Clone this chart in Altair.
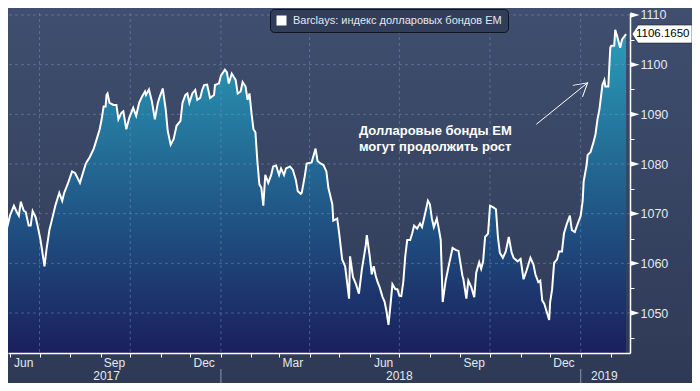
import altair as alt
import pandas as pd

FONT = "Liberation Sans"
SERIES = "Barclays: индекс долларовых бондов EM"
START = "2017-05-22"      # first observation
VIEW_START = "2017-05-30"  # left edge of the visible plot
END = "2019-02-20"

# days after START, and index level
days = [0, 4, 7, 10, 14, 17, 19, 21, 24, 26,
        29, 31, 33, 36, 38, 41, 45, 47, 50, 52,
        56, 60, 63, 65, 69, 73, 76, 81, 84, 87,
        91, 95, 98, 101, 103, 105, 107, 108, 109, 111,
        115, 118, 120, 123, 125, 128, 131, 135, 138, 141,
        144, 147, 148, 151, 154, 157, 160, 162, 165, 168,
        170, 173, 176, 179, 183, 185, 188, 190, 192, 195,
        198, 200, 203, 205, 207, 210, 213, 217, 218, 222,
        224, 228, 230, 232, 235, 239, 241, 244, 246, 249,
        251, 253, 255, 257, 259, 261, 263, 265, 267, 269,
        272, 275, 277, 280, 283, 285, 288, 290, 294, 297,
        300, 302, 305, 306, 309, 311, 316, 320, 322, 325,
        328, 331, 333, 337, 338, 342, 344, 347, 350, 354,
        355, 358, 361, 364, 367, 371, 372, 375, 377, 379,
        381, 383, 385, 388, 390, 392, 394, 396, 398, 401,
        403, 405, 407, 409, 411, 413, 416, 418, 420, 423,
        426, 428, 430, 434, 436, 438, 440, 443, 445, 447,
        449, 452, 455, 459, 462, 465, 469, 470, 473, 475,
        478, 481, 483, 486, 488, 490, 492, 495, 497, 500,
        503, 505, 507, 510, 513, 516, 519, 521, 525, 528,
        531, 534, 538, 541, 543, 546, 548, 550, 552, 555,
        557, 558, 560, 562, 565, 567, 570, 572, 575, 578,
        580, 583, 586, 589, 591, 592, 595, 596, 599, 602,
        604, 606, 608, 611, 613, 614, 617, 619, 620, 623,
        624, 626, 629, 631, 635]

values = [1062.4, 1066.1, 1067.1, 1069.6, 1071.6, 1070.3, 1069.6, 1072.4, 1070.6, 1070.3,
          1067.6, 1067.6, 1070.5, 1069.3, 1067.6, 1064.7, 1059.4, 1062.7, 1066.7, 1068.3,
          1071.6, 1074.2, 1072.6, 1074.2, 1076.2, 1078.5, 1078.2, 1076.2, 1078.2, 1080.1,
          1081.4, 1083.1, 1085.0, 1087.0, 1089.0, 1091.6, 1091.6, 1093.9, 1094.2, 1092.3,
          1091.9, 1091.9, 1089.0, 1090.3, 1090.6, 1087.0, 1089.3, 1091.3, 1089.7, 1092.3,
          1093.6, 1094.6, 1093.9, 1095.0, 1092.6, 1089.0, 1092.3, 1093.6, 1095.2, 1091.0,
          1086.7, 1083.9, 1085.0, 1087.7, 1088.7, 1092.3, 1093.9, 1094.2, 1092.3, 1094.2,
          1094.9, 1092.9, 1093.3, 1094.9, 1095.9, 1096.0, 1093.3, 1093.9, 1095.9, 1096.2,
          1097.8, 1099.0, 1098.5, 1096.2, 1098.2, 1096.9, 1094.2, 1094.6, 1096.5, 1095.6,
          1092.9, 1094.2, 1090.3, 1087.0, 1086.4, 1080.5, 1075.9, 1075.2, 1071.6, 1077.8,
          1076.2, 1077.8, 1079.5, 1079.7, 1077.8, 1079.1, 1077.8, 1079.1, 1079.5, 1078.8,
          1076.8, 1074.5, 1074.0, 1074.2, 1077.5, 1080.1, 1080.3, 1083.1, 1080.6, 1080.1,
          1079.8, 1078.5, 1075.2, 1071.9, 1068.6, 1069.0, 1066.0, 1060.8, 1059.4, 1052.9,
          1061.4, 1057.2, 1055.8, 1053.9, 1058.8, 1063.7, 1065.7, 1061.4, 1057.8, 1059.4,
          1057.5, 1056.2, 1055.2, 1053.2, 1052.3, 1050.3, 1047.6, 1051.6, 1055.8, 1054.8,
          1054.8, 1053.5, 1053.4, 1056.2, 1061.4, 1064.7, 1064.7, 1066.0, 1067.6, 1067.0,
          1068.0, 1067.3, 1069.0, 1072.6, 1071.9, 1069.0, 1067.3, 1069.0, 1067.0, 1064.7,
          1052.2, 1056.5, 1059.4, 1063.1, 1062.7, 1062.5, 1057.5, 1056.8, 1052.9, 1056.5,
          1055.2, 1053.2, 1058.1, 1060.2, 1058.9, 1060.4, 1065.3, 1066.0, 1071.6, 1071.3,
          1070.9, 1065.3, 1062.1, 1061.1, 1062.4, 1065.3, 1062.1, 1061.1, 1060.4, 1060.9,
          1056.8, 1058.5, 1061.1, 1059.8, 1057.8, 1056.2, 1056.5, 1052.5, 1051.9, 1049.9,
          1048.6, 1052.2, 1054.8, 1060.1, 1060.8, 1062.4, 1062.4, 1066.0, 1068.0, 1069.6,
          1066.7, 1066.3, 1068.0, 1069.6, 1072.6, 1076.5, 1079.8, 1081.8, 1082.4, 1084.4,
          1086.0, 1089.0, 1091.0, 1095.9, 1096.9, 1095.6, 1095.6, 1103.4, 1103.8, 1103.8,
          1107.0, 1105.7, 1103.4, 1105.1, 1106.165]

month_starts = ["2017-06-01", "2017-07-01", "2017-08-01", "2017-09-01", "2017-10-01",
                "2017-11-01", "2017-12-01", "2018-01-01", "2018-02-01", "2018-03-01",
                "2018-04-01", "2018-05-01", "2018-06-01", "2018-07-01", "2018-08-01",
                "2018-09-01", "2018-10-01", "2018-11-01", "2018-12-01", "2019-01-01",
                "2019-02-01"]
quarter_starts = ["2017-07-01", "2017-10-01", "2018-01-01", "2018-04-01",
                  "2018-07-01", "2018-10-01", "2019-01-01"]
month_labels = ["Jun", "Sep", "Dec", "Mar", "Jun", "Sep", "Dec"]
month_label_dates = ["2017-06-15", "2017-09-15", "2017-12-15", "2018-03-15",
                     "2018-06-15", "2018-09-15", "2018-12-15"]
year_labels = ["2017", "2018", "2019"]
year_label_dates = ["2017-09-07", "2018-07-01", "2019-01-25"]
year_breaks = ["2018-01-01", "2019-01-01"]
y_ticks = [1045, 1050, 1055, 1060, 1065, 1070, 1075, 1080, 1085, 1090, 1095, 1100, 1105, 1110]
y_major = [1050, 1060, 1070, 1080, 1090, 1100, 1110]
y_domain = [1041.95, 1110.40]

note_lines = ["Долларовые бонды EM", "могут продолжить рост"]
note_date = "2018-05-21"
note_values = [1086.7, 1083.4]
arrow_dates = ["2018-11-17", "2019-01-08"]
arrow_values = [1088.0, 1096.35]

df = pd.DataFrame({
    "date": pd.Timestamp(START) + pd.to_timedelta(days, unit="D"),
    "value": values,
    "series": SERIES,
})


def dt(s):
    t = pd.Timestamp(s)
    return alt.DateTime(year=t.year, month=t.month, date=t.day)


x_scale = alt.Scale(domain=[dt(VIEW_START), dt(END)])
y_scale = alt.Scale(domain=y_domain, nice=False, zero=False)

label_color = "#e4e8ef"

x_axis = alt.Axis(values=[dt(s) for s in month_starts], labels=False, grid=False,
                  ticks=True, tickSize=4, tickColor="#ffffff", tickWidth=1,
                  domainColor="#ffffff", domainWidth=1.5, title=None, zindex=1)
y_axis = alt.Axis(orient="right", values=y_ticks, format="d",
                  labelExpr="datum.value % 10 == 0 ? datum.label : ''",
                  labelOverlap=False, grid=False, tickSize=4, tickColor="#ffffff",
                  tickWidth=1, domainColor="#ffffff", domainWidth=1.5,
                  labelPadding=6, labelFont=FONT, labelFontSize=12.5,
                  labelColor=label_color, title=None, zindex=1)


def X(field):
    return alt.X(field, scale=x_scale, axis=x_axis)


def Y(field):
    return alt.Y(field, scale=y_scale, axis=y_axis)


bg = alt.Chart(pd.DataFrame({"a": [0]})).mark_rect(
    fill=alt.Gradient(gradient="linear", x1=0, y1=0, x2=0, y2=1,
                      stops=[alt.GradientStop(color="#404e6f", offset=0),
                             alt.GradientStop(color="#2e3a55", offset=1)])
).encode(x=alt.value(0), x2=alt.value(684), y=alt.value(-5), y2=alt.value(370))

base = alt.Chart(df)

area = base.mark_area(
    opacity=1, clip=True,
    fill=alt.Gradient(gradient="linear", x1=0, y1=0, x2=0, y2=1,
                      stops=[alt.GradientStop(color="#2a9db9", offset=0),
                             alt.GradientStop(color="#215e8c", offset=0.5),
                             alt.GradientStop(color="#1a1f5c", offset=1)])
).encode(x=X("date:T"), y=Y("value:Q"), y2=alt.datum(y_domain[0]))

grid_color = "#7f9bc8"
hgrid = alt.Chart(pd.DataFrame({"v": y_major})).mark_rule(
    color=grid_color, opacity=0.45, strokeDash=[3, 3], strokeWidth=1
).encode(y=Y("v:Q"))

vgrid = alt.Chart(pd.DataFrame({"d": pd.to_datetime(quarter_starts)})).mark_rule(
    color=grid_color, opacity=0.45, strokeDash=[3, 3], strokeWidth=1
).encode(x=X("d:T"))

line = base.mark_line(strokeWidth=2, clip=True).encode(
    x=X("date:T"),
    y=Y("value:Q"),
    color=alt.Color("series:N", scale=alt.Scale(range=["#ffffff"]),
                    legend=alt.Legend(title=None, orient="none", legendX=262, legendY=-4,
                                      fillColor="#323d5a", strokeColor="#0e1420",
                                      cornerRadius=4, padding=6, symbolType="square",
                                      symbolSize=100, symbolFillColor="#ffffff",
                                      symbolStrokeColor="#ffffff", symbolStrokeWidth=0,
                                      labelColor=label_color, labelFont=FONT,
                                      labelFontSize=11, labelOffset=6, labelLimit=400)),
)

tri = alt.Chart(pd.DataFrame({"v": y_major})).mark_point(
    shape="M -1 -0.6 L 1 0 L -1 0.6 Z", filled=True, color="#ffffff", opacity=1, size=81
).encode(x=alt.value(627), y=Y("v:Q"))

last = df.tail(1)
tag = alt.Chart(last).mark_point(
    shape="M -1 0 L -0.8 -0.3 L 1 -0.3 L 1 0.3 L -0.8 0.3 Z",
    filled=True, fill="#ffffff", stroke="#1a1f2e", strokeWidth=0.6, opacity=1, size=3600
).encode(x=alt.value(654), y=Y("value:Q"))

tag_text = alt.Chart(last).mark_text(
    align="left", baseline="middle", font=FONT, fontSize=11.5, color="#000000"
).encode(x=alt.value(628), y=Y("value:Q"), text=alt.Text("value:Q", format=".4f"))

months = alt.Chart(pd.DataFrame({"d": pd.to_datetime(month_label_dates),
                                 "t": month_labels})).mark_text(
    align="center", baseline="middle", font=FONT, fontSize=12, color=label_color
).encode(x=X("d:T"), y=alt.value(349.5), text="t:N")

years = alt.Chart(pd.DataFrame({"d": pd.to_datetime(year_label_dates),
                                "t": year_labels})).mark_text(
    align="center", baseline="middle", font=FONT, fontSize=12, color=label_color
).encode(x=X("d:T"), y=alt.value(363), text="t:N")

seps = alt.Chart(pd.DataFrame({"d": pd.to_datetime(year_breaks)})).mark_rule(
    color="#8c96aa", strokeWidth=1
).encode(x=X("d:T"), y=alt.value(356), y2=alt.value(370))

arrow_df = pd.DataFrame({"d": pd.to_datetime(arrow_dates), "v": arrow_values, "o": [0, 1]})
arrow = alt.Chart(arrow_df).mark_line(color="#ffffff", strokeWidth=1).encode(
    x=X("d:T"), y=Y("v:Q"), order="o:Q",
)
arrow_head = alt.Chart(arrow_df.tail(1)).mark_point(
    shape="M -1 -0.58 L 0 0 L -1 0.58", filled=False, stroke="#ffffff", strokeWidth=1,
    opacity=1, size=676, angle=320
).encode(x=X("d:T"), y=Y("v:Q"))

note = alt.Chart(pd.DataFrame({"d": pd.to_datetime([note_date] * 2), "v": note_values,
                               "t": note_lines})).mark_text(
    align="left", baseline="middle", font=FONT, fontSize=13, fontWeight="bold",
    color="#ffffff"
).encode(x=X("d:T"), y=Y("v:Q"), text="t:N")

chart = alt.layer(
    bg, area, hgrid, vgrid, line, tri, tag, tag_text, months, years, seps,
    arrow, arrow_head, note
).properties(
    width=622, height=340,
    autosize=alt.AutoSizeParams(type="none"),
    padding={"left": 0, "top": 5, "right": 62, "bottom": 30},
    background="#36425f",
).configure_view(stroke=None).configure(font=FONT)

chart.save("out.html", embed_options={"renderer": "svg", "actions": False})
